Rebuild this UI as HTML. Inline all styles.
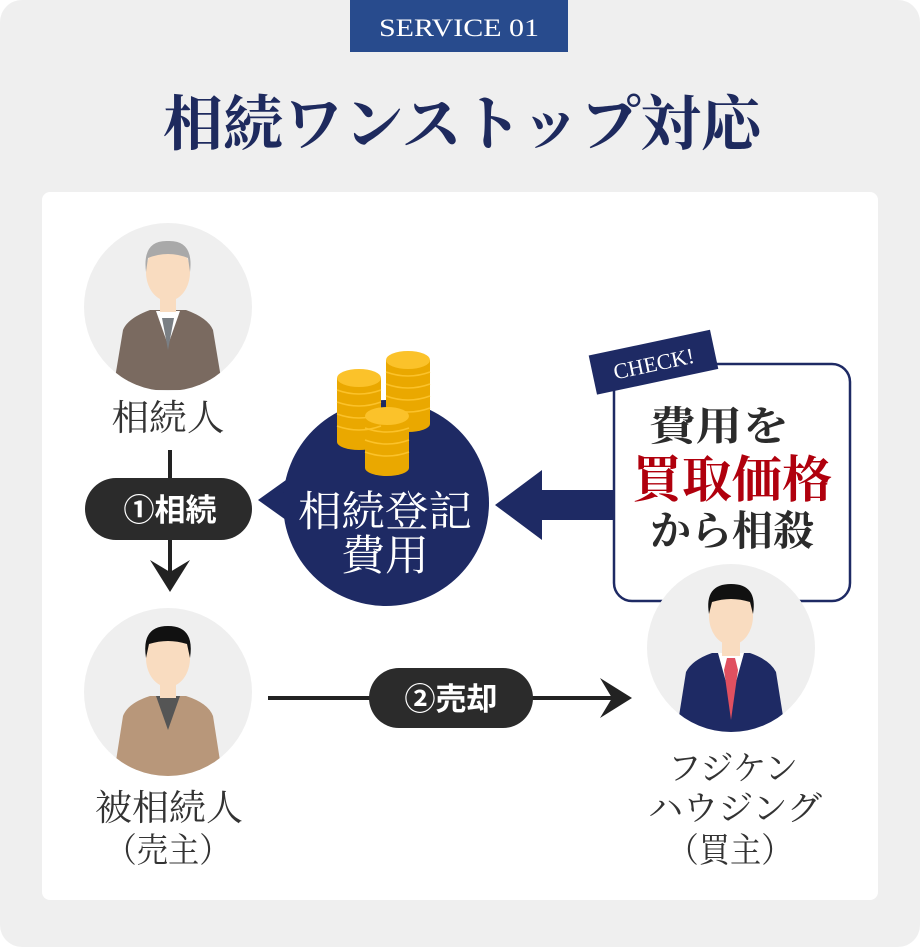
<!DOCTYPE html>
<html><head><meta charset="utf-8"><style>
html,body{margin:0;padding:0;background:#fff}
svg{display:block}
.s{font-family:"Liberation Serif","Noto Serif CJK SC",serif}
</style></head><body>
<svg width="920" height="947" viewBox="0 0 920 947" xmlns="http://www.w3.org/2000/svg">
<rect x="0" y="0" width="920" height="947" rx="22" fill="#efefef"/>
<rect x="350" y="0" width="218" height="52" fill="#284b8d"/>
<text x="459" y="36" text-anchor="middle" class="s" font-size="25" fill="#fff" textLength="160" lengthAdjust="spacingAndGlyphs">SERVICE 01</text>
<text x="163" y="145" class="s" font-size="60" font-weight="bold" fill="#1e2a5e" textLength="598" lengthAdjust="spacingAndGlyphs">相続ワンストップ対応</text>
<rect x="42" y="192" width="836" height="708" rx="8" fill="#fff"/>

<clipPath id="c1"><circle cx="168" cy="307" r="84"/></clipPath>
<circle cx="168" cy="307" r="84" fill="#efefef"/>
<g clip-path="url(#c1)">
<path d="M113 390 L123 330 Q128 318 150 310 L186 310 Q208 318 213 330 L223 390 Z" fill="#7a6a60"/>
<path d="M156 311 L168 345 L180 311 Z" fill="#fff"/>
<path d="M162 318 L168 350 L174 318 Z" fill="#7a7f84"/>
<rect x="160" y="290" width="16" height="22" fill="#f9dcc0"/>
<ellipse cx="168" cy="272" rx="22" ry="29" fill="#f9dcc0"/>
<path d="M146 272 Q142 240 168 241 Q194 240 190 272 L188 258 Q168 250 148 258 Z" fill="#a9a9a9"/>
</g>
<text x="168" y="430" text-anchor="middle" class="s" font-size="36" fill="#333" textLength="113" lengthAdjust="spacingAndGlyphs">相続人</text>

<line x1="170" y1="450" x2="170" y2="585" stroke="#222" stroke-width="4"/>
<path d="M150 560 L170 592 L190 560 L170 572 Z" fill="#222"/>
<rect x="85" y="478" width="167" height="62" rx="31" fill="#2b2b2b"/>
<text x="170" y="521" text-anchor="middle" font-family="Liberation Sans,'Noto Sans CJK JP',sans-serif" font-size="31" font-weight="bold" fill="#fff">①相続</text>

<path d="M258 500 L300 470 L300 530 Z" fill="#1e2a64"/>
<circle cx="386" cy="503" r="103" fill="#1e2a64"/>
<g>
<rect x="337" y="378" width="44" height="64" fill="#eaa800"/><ellipse cx="359" cy="442" rx="22" ry="8" fill="#eaa800"/><ellipse cx="359" cy="378" rx="22" ry="9" fill="#fbc22a"/>
<rect x="386" y="360" width="44" height="64" fill="#eaa800"/><ellipse cx="408" cy="424" rx="22" ry="8" fill="#eaa800"/><ellipse cx="408" cy="360" rx="22" ry="9" fill="#fbc22a"/>
<rect x="365" y="416" width="44" height="52" fill="#eaa800"/><ellipse cx="387" cy="468" rx="22" ry="8" fill="#eaa800"/><ellipse cx="387" cy="416" rx="22" ry="9" fill="#fbc22a"/>
<g stroke="#fbc22a" stroke-width="1.5" fill="none">
<path d="M337 390 Q359 398 381 390 M337 402 Q359 410 381 402 M337 414 Q359 422 381 414 M337 426 Q359 434 381 426"/>
<path d="M386 372 Q408 380 430 372 M386 384 Q408 392 430 384 M386 396 Q408 404 430 396 M386 408 Q408 416 430 408"/>
<path d="M365 428 Q387 436 409 428 M365 440 Q387 448 409 440 M365 452 Q387 460 409 452"/>
</g>
</g>
<text x="385" y="526" text-anchor="middle" class="s" font-size="42" fill="#fff" textLength="174" lengthAdjust="spacingAndGlyphs">相続登記</text>
<text x="385" y="570" text-anchor="middle" class="s" font-size="42" fill="#fff" textLength="88" lengthAdjust="spacingAndGlyphs">費用</text>

<path d="M616 490 L542 490 L542 470 L495 505 L542 540 L542 520 L616 520 Z" fill="#1e2a64"/>

<rect x="614" y="364" width="236" height="237" rx="18" fill="#fff" stroke="#1e2a64" stroke-width="2.5"/>
<g transform="rotate(-12 650 365)">
<rect x="592" y="343" width="124" height="40" fill="#1e2a64"/>
<text x="654" y="372" text-anchor="middle" class="s" font-size="22" fill="#fff">CHECK!</text>
</g>
<text x="719" y="440" text-anchor="middle" class="s" font-size="40" font-weight="bold" fill="#2b2b2b" textLength="140" lengthAdjust="spacingAndGlyphs">費用を</text>
<text x="732" y="497" text-anchor="middle" class="s" font-size="50" font-weight="bold" fill="#b0000d" textLength="200" lengthAdjust="spacingAndGlyphs">買取価格</text>
<text x="732" y="545" text-anchor="middle" class="s" font-size="41" font-weight="bold" fill="#2b2b2b" textLength="164" lengthAdjust="spacingAndGlyphs">から相殺</text>

<clipPath id="c3"><circle cx="731" cy="648" r="84"/></clipPath>
<circle cx="731" cy="648" r="84" fill="#efefef"/>
<g clip-path="url(#c3)">
<path d="M676 735 L686 672 Q692 660 712 653 L750 653 Q770 660 776 672 L786 735 Z" fill="#1e2a64"/>
<path d="M718 653 L731 700 L744 653 Z" fill="#fff"/>
<path d="M727 658 L724 670 L731 720 L738 670 L735 658 Z" fill="#e05060"/>
<rect x="722" y="632" width="18" height="24" fill="#f9dcc0"/>
<ellipse cx="731" cy="616" rx="22" ry="29" fill="#f9dcc0"/>
<path d="M709 614 Q704 584 731 584 Q758 584 753 614 L750 602 Q731 596 712 602 Z" fill="#111"/>
</g>
<text x="733" y="780" text-anchor="middle" class="s" font-size="34" fill="#333" textLength="130" lengthAdjust="spacingAndGlyphs">フジケン</text>
<text x="735" y="820" text-anchor="middle" class="s" font-size="34" fill="#333" textLength="174" lengthAdjust="spacingAndGlyphs">ハウジング</text>
<text x="730" y="862" text-anchor="middle" class="s" font-size="34" fill="#333" textLength="125" lengthAdjust="spacingAndGlyphs">（買主）</text>

<clipPath id="c2"><circle cx="168" cy="692" r="84"/></clipPath>
<circle cx="168" cy="692" r="84" fill="#efefef"/>
<g clip-path="url(#c2)">
<path d="M113 780 L123 716 Q128 703 150 696 L186 696 Q208 703 213 716 L223 780 Z" fill="#b8977a"/>
<path d="M156 696 L168 730 L180 696 Z" fill="#555"/>
<rect x="160" y="676" width="16" height="22" fill="#f9dcc0"/>
<ellipse cx="168" cy="658" rx="22" ry="29" fill="#f9dcc0"/>
<path d="M146 658 Q141 626 168 626 Q195 626 190 658 L187 644 Q168 638 149 644 Z" fill="#111"/>
</g>
<text x="169" y="820" text-anchor="middle" class="s" font-size="36" fill="#333" textLength="148" lengthAdjust="spacingAndGlyphs">被相続人</text>
<text x="168" y="862" text-anchor="middle" class="s" font-size="34" fill="#333" textLength="125" lengthAdjust="spacingAndGlyphs">（売主）</text>

<line x1="268" y1="698" x2="625" y2="698" stroke="#222" stroke-width="4"/>
<path d="M600 678 L632 698 L600 718 L612 698 Z" fill="#222"/>
<rect x="369" y="668" width="164" height="60" rx="30" fill="#2b2b2b"/>
<text x="451" y="710" text-anchor="middle" font-family="Liberation Sans,'Noto Sans CJK JP',sans-serif" font-size="31" font-weight="bold" fill="#fff">②売却</text>
</svg>
</body></html>
